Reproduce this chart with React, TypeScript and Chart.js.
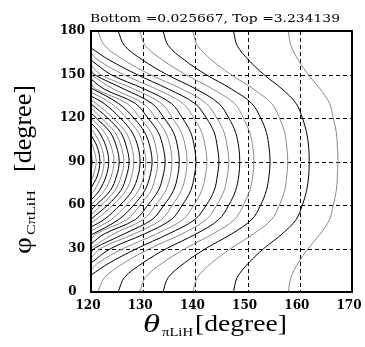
import React, { useEffect, useRef } from "react";
import { Chart, registerables } from "chart.js";
Chart.register(...registerables);

// ---- data ----
const titleText = "Bottom =0.025667, Top =3.234139";
const xTitleMain = "θ";
const xTitleSub = "πLiH";
const yTitleMain = "φ";
const yTitleSub = "CπLiH";
const unitText = "[degree]";
const xTicks = [120, 130, 140, 150, 160, 170];
const yTicks = [0, 30, 60, 90, 120, 150, 180];

// φ rows at which each contour's θ position is read
const phiRows = [0, 10, 20, 30, 40, 50, 60, 70, 80, 90, 100, 110, 120, 130, 140, 150, 160, 170, 180];
const N = null;
const c01 = [157.8, 158.3, 159.7, 161.6, 163.9, 165.7, 166.4, 167.0, 167.2, 167.3, 167.2, 167.0, 166.4, 165.7, 163.9, 161.6, 159.7, 158.3, 157.8];
const c02 = [147.3, 148.0, 150.2, 153.1, 156.6, 159.3, 160.5, 161.3, 161.7, 161.8, 161.7, 161.3, 160.5, 159.3, 156.6, 153.1, 150.2, 148.0, 147.3];
const c03 = [139.5, 140.4, 143.1, 146.8, 151.1, 154.6, 156.1, 157.1, 157.5, 157.7, 157.5, 157.1, 156.1, 154.6, 151.1, 146.8, 143.1, 140.4, 139.5];
const c04 = [133.8, 134.8, 137.9, 142.0, 146.9, 150.8, 152.5, 153.6, 154.1, 154.3, 154.1, 153.6, 152.5, 150.8, 146.9, 142.0, 137.9, 134.8, 133.8];
const c05 = [129.3, 130.4, 133.7, 138.1, 143.3, 147.5, 149.2, 150.4, 151.0, 151.2, 151.0, 150.4, 149.2, 147.5, 143.3, 138.1, 133.7, 130.4, 129.3];
const c06 = [125.2, 126.4, 129.9, 134.5, 140.1, 144.5, 146.4, 147.7, 148.3, 148.5, 148.3, 147.7, 146.4, 144.5, 140.1, 134.5, 129.9, 126.4, 125.2];
const c07 = [121.3, 122.6, 126.3, 131.3, 137.4, 142.1, 144.1, 145.5, 146.1, 146.4, 146.1, 145.5, 144.1, 142.1, 137.4, 131.3, 126.3, 122.6, 121.3];
const c08 = [N, N, 123.5, 128.8, 134.8, 139.9, 142.1, 143.6, 144.2, 144.5, 144.2, 143.6, 142.1, 139.9, 134.8, 128.8, 123.5, N, N];
const c09 = [N, N, 121.3, 126.2, 132.5, 137.6, 139.7, 141.2, 141.9, 142.2, 141.9, 141.2, 139.7, 137.6, 132.5, 126.2, 121.3, N, N];
const c10 = [N, N, N, 123.8, 130.2, 135.4, 137.5, 139.1, 139.8, 140.1, 139.8, 139.1, 137.5, 135.4, 130.2, 123.8, N, N, N];
const c11 = [N, N, N, 121.8, 128.2, 133.5, 135.6, 137.3, 138.1, 138.4, 138.1, 137.3, 135.6, 133.5, 128.2, 121.8, N, N, N];
const c12 = [N, N, N, 120.6, 126.3, 131.7, 134.0, 135.8, 136.6, 136.9, 136.6, 135.8, 134.0, 131.7, 126.3, 120.6, N, N, N];
const c13 = [N, N, N, N, 124.3, 130.0, 132.4, 134.3, 135.2, 135.5, 135.2, 134.3, 132.4, 130.0, 124.3, N, N, N, N];
const c14 = [N, N, N, N, 122.5, 128.5, 130.9, 132.9, 133.8, 134.2, 133.8, 132.9, 130.9, 128.5, 122.5, N, N, N, N];
const c15 = [N, N, N, N, 120.9, 126.9, 129.4, 131.5, 132.4, 132.8, 132.4, 131.5, 129.4, 126.9, 120.9, N, N, N, N];
const c16 = [N, N, N, N, N, 125.3, 128.2, 130.3, 131.3, 131.7, 131.3, 130.3, 128.2, 125.3, N, N, N, N, N];
const c17 = [N, N, N, N, N, 123.9, 126.8, 129.1, 130.1, 130.5, 130.1, 129.1, 126.8, 123.9, N, N, N, N, N];
const c18 = [N, N, N, N, N, 122.5, 125.6, 127.9, 129.0, 129.4, 129.0, 127.9, 125.6, 122.5, N, N, N, N, N];
const c19 = [N, N, N, N, N, 121.0, 124.2, 126.7, 127.8, 128.2, 127.8, 126.7, 124.2, 121.0, N, N, N, N, N];
const c20 = [N, N, N, N, N, N, 123.2, 125.7, 126.8, 127.3, 126.8, 125.7, 123.2, N, N, N, N, N, N];
const c21 = [N, N, N, N, N, N, 122.0, 124.6, 125.8, 126.3, 125.8, 124.6, 122.0, N, N, N, N, N, N];
const c22 = [N, N, N, N, N, N, 121.0, 123.7, 124.9, 125.4, 124.9, 123.7, 121.0, N, N, N, N, N, N];
const c23 = [N, N, N, N, N, N, N, 122.6, 123.9, 124.4, 123.9, 122.6, N, N, N, N, N, N, N];
const c24 = [N, N, N, N, N, N, N, 121.6, 122.9, 123.4, 122.9, 121.6, N, N, N, N, N, N, N];
const c25 = [N, N, N, N, N, N, N, 120.6, 122.0, 122.5, 122.0, 120.6, N, N, N, N, N, N, N];
const c26 = [N, N, N, N, N, N, N, N, 121.2, 121.7, 121.2, N, N, N, N, N, N, N, N];
const c27 = [N, N, N, N, N, N, N, N, 120.4, 121.0, 120.4, N, N, N, N, N, N, N, N];
const c28 = [N, N, N, N, N, N, N, N, N, 120.2, N, N, N, N, N, N, N, N, N];

// φ where a contour meets the left edge (θ = 120), low and high
const e08 = [11.7, 168.3];
const e09 = [15.2, 164.8];
const e10 = [20.0, 160.0];
const e11 = [23.4, 156.6];
const e12 = [26.9, 153.1];
const e13 = [30.3, 149.7];
const e14 = [33.1, 146.9];
const e15 = [35.9, 144.1];
const e16 = [39.3, 140.7];
const e17 = [42.1, 137.9];
const e18 = [44.8, 135.2];
const e19 = [47.6, 132.4];
const e20 = [50.3, 129.7];
const e21 = [53.1, 126.9];
const e22 = [56.6, 123.4];
const e23 = [60.0, 120.0];
const e24 = [63.4, 116.6];
const e25 = [67.6, 112.4];
const e26 = [71.7, 108.3];
const e27 = [76.6, 103.4];
const e28 = [82.1, 97.9];

const contourThetas = [c01, c02, c03, c04, c05, c06, c07, c08, c09, c10, c11, c12, c13, c14, c15, c16, c17, c18, c19, c20, c21, c22, c23, c24, c25, c26, c27, c28];
const contourEdges: (number[] | null)[] = [null, null, null, null, null, null, null, e08, e09, e10, e11, e12, e13, e14, e15, e16, e17, e18, e19, e20, e21, e22, e23, e24, e25, e26, e27, e28];

const GRAY = "#8a8a8a";
const BLACK = "#000000";

function fitText(ctx: CanvasRenderingContext2D, text: string, x: number, y: number, font: string, w: number) {
  ctx.save();
  ctx.font = font;
  const m = ctx.measureText(text).width;
  ctx.translate(x, y);
  ctx.scale(w / m, 1);
  ctx.textAlign = "left";
  ctx.textBaseline = "alphabetic";
  ctx.fillStyle = "#000";
  ctx.fillText(text, 0, 0);
  ctx.restore();
}

const decor = {
  id: "decor",
  beforeDatasetsDraw(chart: any) {
    const { ctx, chartArea: a, scales } = chart;
    const xs = scales.x, ys = scales.y;
    ctx.save();
    ctx.strokeStyle = "#000";
    ctx.lineWidth = 1;
    ctx.setLineDash([4, 3]);
    xTicks.slice(1, -1).forEach((v) => {
      const px = Math.round(xs.getPixelForValue(v)) + 0.5;
      ctx.beginPath();
      ctx.moveTo(px, a.top);
      ctx.lineTo(px, a.bottom);
      ctx.stroke();
    });
    yTicks.slice(1, -1).forEach((v) => {
      const py = Math.round(ys.getPixelForValue(v)) + 0.5;
      ctx.beginPath();
      ctx.moveTo(a.left, py);
      ctx.lineTo(a.right, py);
      ctx.stroke();
    });
    ctx.restore();
  },
  afterDatasetsDraw(chart: any) {
    const { ctx, chartArea: a } = chart;
    ctx.save();
    ctx.strokeStyle = "#000";
    ctx.lineWidth = 2;
    ctx.setLineDash([]);
    ctx.strokeRect(a.left, a.top, a.right - a.left, a.bottom - a.top);
    ctx.restore();
    // title
    fitText(ctx, titleText, 90, 22, '10.5px "DejaVu Serif"', 250);
    // x title
    fitText(ctx, xTitleMain, 143, 332, 'italic 25px "Liberation Serif"', 17);
    fitText(ctx, xTitleSub, 162, 336, '12px "Liberation Serif"', 31);
    fitText(ctx, unitText, 195, 331, '23px "Liberation Serif"', 92);
    // y title (rotated)
    ctx.save();
    ctx.translate(31, 254);
    ctx.rotate(-Math.PI / 2);
    fitText(ctx, yTitleMain, 0, 0, '25px "Liberation Serif"', 17);
    fitText(ctx, yTitleSub, 19, 4, '13px "Liberation Serif"', 45);
    fitText(ctx, unitText, 82, 0, '25px "Liberation Serif"', 87);
    ctx.restore();
  },
};

export default function App() {
  const ref = useRef<HTMLCanvasElement>(null);
  useEffect(() => {
    const canvas = ref.current!;
    const datasets = contourThetas.map((th, i) => {
      const pts: { x: number; y: number }[] = [];
      const edge = contourEdges[i];
      if (edge) pts.push({ x: 120, y: edge[0] });
      th.forEach((v, j) => {
        if (v !== null) pts.push({ x: v as number, y: phiRows[j] });
      });
      if (edge) pts.push({ x: 120, y: edge[1] });
      return {
        data: pts,
        showLine: true,
        borderColor: i % 2 === 0 ? GRAY : BLACK,
        borderWidth: 1,
        pointRadius: 0,
        pointHoverRadius: 0,
        tension: 0.35,
        fill: false,
      };
    });
    const tickFont = { family: '"DejaVu Serif"', weight: "bold" as const, size: 12 };
    const chart = new Chart(canvas, {
      type: "scatter",
      data: { datasets },
      options: {
        animation: false,
        responsive: false,
        devicePixelRatio: 1,
        layout: { padding: { top: 31, right: 13, left: 0, bottom: 0 } },
        plugins: { legend: { display: false }, tooltip: { enabled: false }, title: { display: false } },
        scales: {
          x: {
            type: "linear",
            min: 120,
            max: 170,
            afterBuildTicks: (s: any) => { s.ticks = xTicks.map((v) => ({ value: v })); },
            ticks: { font: tickFont, color: "#000", padding: 7, labelOffset: -3, maxRotation: 0 },
            grid: { display: false, drawTicks: false, tickLength: 0 },
            border: { display: false },
            afterFit: (s: any) => { s.height = 55; s.paddingLeft = 0; s.paddingRight = 0; },
          },
          y: {
            type: "linear",
            min: 0,
            max: 180,
            afterBuildTicks: (s: any) => { s.ticks = yTicks.map((v) => ({ value: v })); },
            ticks: {
              font: tickFont,
              color: "#000",
              padding: 6,
              callback: (v: any) => (Number(v) === 0 ? "0  " : String(v)),
            },
            grid: { display: false, drawTicks: false, tickLength: 0 },
            border: { display: false },
            afterFit: (s: any) => { s.width = 91; s.paddingTop = 0; s.paddingBottom = 0; },
          },
        },
      },
      plugins: [decor],
    } as any);
    return () => chart.destroy();
  }, []);
  return (
    <div style={{ position: "fixed", left: 0, top: 0, width: 365, height: 347, background: "#fff" }}>
      <canvas ref={ref} width={365} height={347} style={{ display: "block" }} />
    </div>
  );
}
